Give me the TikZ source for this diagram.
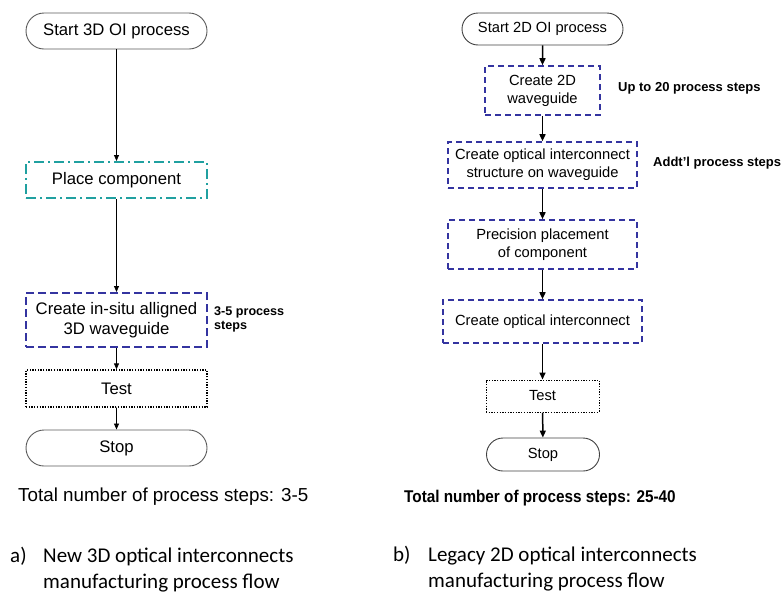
\documentclass[tikz,border=0pt]{standalone}
\usepackage{fontspec}
\setmainfont{Liberation Sans}
\newfontfamily\capfont{Carlito}
\usetikzlibrary{arrows.meta,shapes.misc}
\definecolor{teal1}{RGB}{32,160,160}
\definecolor{navy1}{RGB}{52,52,160}
\definecolor{pillgray}{RGB}{90,90,90}
\begin{document}
\begin{tikzpicture}[x=1pt,y=-1pt,
  lfont/.style={font=\fontsize{16.7}{20}\selectfont},
  rfont/.style={font=\fontsize{14.7}{18}\selectfont},
  pill/.style={rounded rectangle, draw=pillgray, line width=0.9pt, inner sep=0pt},
  lbox/.style={rectangle, inner sep=0pt, minimum width=181pt, align=center, lfont},
  rbox/.style={rectangle, inner sep=0pt, align=center, rfont, draw=navy1, line width=1.6pt, dash pattern=on 6pt off 4pt},
  dotbox/.style={rectangle, inner sep=0pt, align=center, draw=black, line width=1.3pt, dash pattern=on 1.3pt off 1.4pt},
  larrow/.style={-{Triangle[width=5pt,length=6pt]}, line width=0.8pt},
  rarrow/.style={-{Triangle[width=6pt,length=7pt]}, line width=1.5pt},
  note/.style={font=\bfseries\fontsize{13}{14}\selectfont, inner sep=0pt, anchor=base west},
  capt/.style={font=\capfont\fontsize{21}{26}\selectfont, inner sep=0pt, anchor=base west}
]
\useasboundingbox (0,0) rectangle (783,592);
% left column
\node[pill, lfont, minimum width=181pt, minimum height=36pt] (ls) at (116.5,31) {Start 3D OI process};
\node[lbox, draw=teal1, line width=2pt, dash pattern=on 10pt off 4pt on 2pt off 4pt, minimum height=36pt] (lp) at (116.5,180) {Place component};
\node[lbox, draw=navy1, line width=2pt, dash pattern=on 8pt off 4pt, minimum height=54pt] (lc) at (116.5,320) {Create in-situ alligned\\3D waveguide};
\node[lbox, dotbox, lfont, minimum height=37pt] (lt) at (116.5,388.5) {Test};
\node[pill, lfont, minimum width=181pt, minimum height=36pt] (le) at (116.5,448) {Stop};
\draw[larrow] (ls) -- (lp);
\draw[larrow] (lp) -- (lc);
\draw[larrow] (lc) -- (lt);
\draw[larrow] (lt) -- (le);
\node[note, font=\bfseries\fontsize{12.6}{14}\selectfont] (ln1) at (214,315) {3-5 process};
\node[note, font=\bfseries\fontsize{12.6}{14}\selectfont] (ln2) at (214,329) {steps};
\node[inner sep=0pt, anchor=base west, font=\fontsize{18.8}{22}\selectfont] (ltot) at (18,501) {Total number of process steps: 3-5};
% right column
\node[pill, rfont, draw=black!75, minimum width=161pt, minimum height=32pt] (rs) at (542.5,29) {Start 2D OI process};
\node[rbox, minimum width=115pt, minimum height=49pt] (r1) at (542.5,90.5) {Create 2D\\waveguide};
\node[rbox, minimum width=189pt, minimum height=46pt] (r2) at (542.5,165) {Create optical interconnect\\structure on waveguide};
\node[rbox, minimum width=189pt, minimum height=49pt] (r3) at (542.5,244.5) {Precision placement\\of component};
\node[rbox, minimum width=199pt, minimum height=43pt] (r4) at (542.5,321.5) {Create optical interconnect};
\node[dotbox, rfont, line width=1pt, minimum width=113pt, minimum height=32pt] (r5) at (542.5,396) {Test};
\node[pill, rfont, draw=black!75, minimum width=113pt, minimum height=33pt] (r6) at (543,454.5) {Stop};
\draw[rarrow] (rs) -- (r1);
\draw[rarrow] (r1) -- (r2);
\draw[rarrow] (r2) -- (r3);
\draw[rarrow] (r3) -- (r4);
\draw[rarrow] (r4) -- (r5);
\draw[rarrow] (r5) -- (r6);
\node[note] (rn1) at (618,91) {Up to 20 process steps};
\node[note] (rn2) at (653,166) {Addt'l process steps};
\node[inner sep=0pt, anchor=base west, font=\bfseries\fontsize{17}{20}\selectfont, xscale=0.9] (rtot) at (404,502) {Total number of process steps: 25-40};
% captions
\node[capt] (ca) at (10,562) {a)};
\node[capt] (ca1) at (43,562) {New 3D optical interconnects};
\node[capt] (ca2) at (43,588) {manufacturing process flow};
\node[capt] (cb) at (393,561) {b)};
\node[capt] (cb1) at (428,561) {Legacy 2D optical interconnects};
\node[capt] (cb2) at (428,587) {manufacturing process flow};
\end{tikzpicture}
\end{document}
